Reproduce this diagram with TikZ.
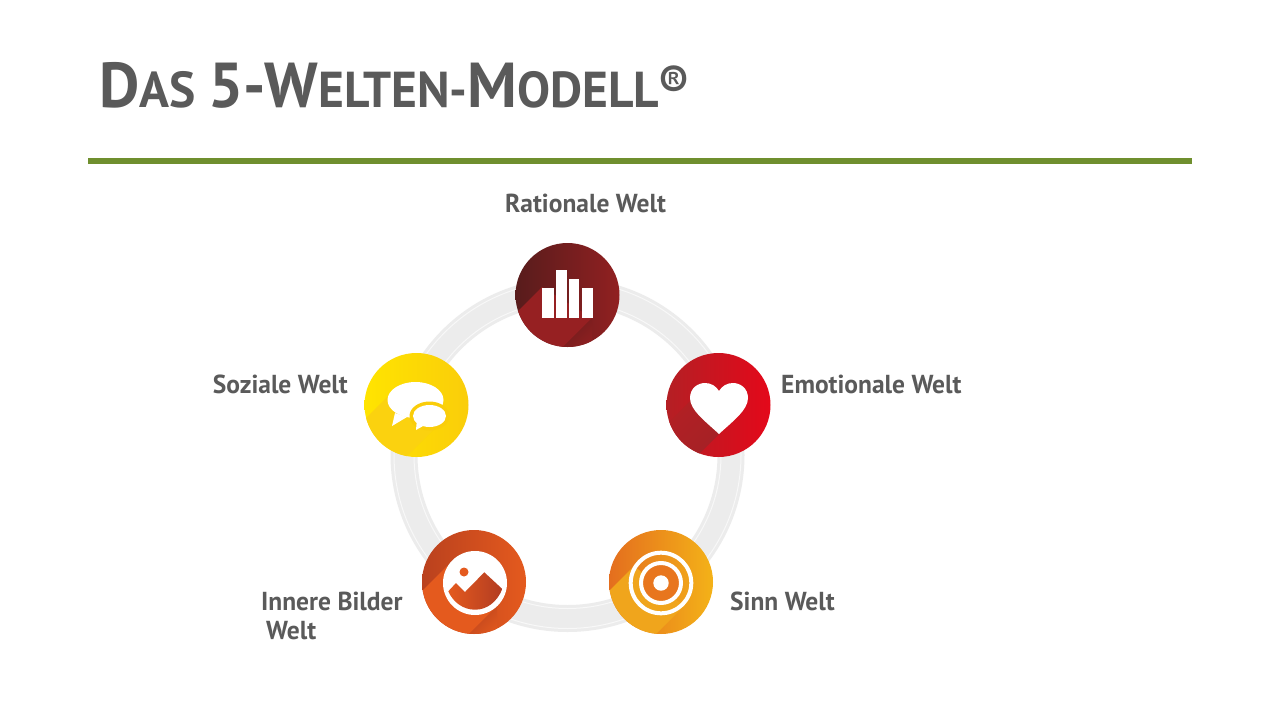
\documentclass[tikz,border=0pt]{standalone}
\usepackage{fontspec}
\setmainfont{PT Sans}[Ligatures=NoCommon,FakeStretch=0.98]
\usetikzlibrary{shapes,backgrounds}
\definecolor{titlegray}{HTML}{5A5A5A}
\definecolor{rulegreen}{HTML}{6F8F2E}
\definecolor{ringgray}{HTML}{ECECEC}
\definecolor{ringline}{HTML}{F8F8F8}
\definecolor{ratdark}{HTML}{581C1C}
\definecolor{ratmain}{HTML}{912021}
\definecolor{ratlight}{HTML}{962022}
\definecolor{ratshade}{HTML}{691C1C}
\definecolor{emodark}{HTML}{B41F24}
\definecolor{emomain}{HTML}{E4081A}
\definecolor{emoshade}{HTML}{A32226}
\definecolor{socleft}{HTML}{FFE400}
\definecolor{socright}{HTML}{FACD0A}
\definecolor{socband}{HTML}{FBD20F}
\definecolor{innleft}{HTML}{BA411E}
\definecolor{innright}{HTML}{E45A1E}
\definecolor{innshade}{HTML}{B5401F}
\definecolor{innpeak}{HTML}{B23C22}
\definecolor{senleft}{HTML}{E46E1E}
\definecolor{senright}{HTML}{F4B218}
\definecolor{senband}{HTML}{F0A51C}
\definecolor{senring}{HTML}{E8761E}
\tikzset{
  world/.style={circle,inner sep=0pt,minimum size=104pt,shading angle=90},
  lbl/.style={font=\bfseries\fontsize{26}{29}\selectfont,text=titlegray,inner sep=0pt,align=left},
  iconwhite/.style={fill=white,draw=none}
}
\newcommand{\capsl}{\fontsize{63.5}{64}\selectfont}
\newcommand{\capss}{\fontsize{50.5}{51}\selectfont}
\begin{document}
\begin{tikzpicture}[x=1pt,y=-1pt]
\useasboundingbox[fill=white] (0,0) rectangle (1280,720);
\node[anchor=base west,inner sep=0pt,text=titlegray,font=\bfseries] (title) at (99,107)
  {\capsl D\capss AS \capsl 5-W\capss ELTEN-\capsl M\capss ODELL\raisebox{8pt}{\fontsize{46}{46}\selectfont ®}};
\fill[rulegreen] (88,158) rectangle (1192,164);

% ring
\draw[ringgray,line width=27pt] (567.5,455) circle (163.5);
\draw[ringline,line width=1pt] (567.5,455) circle (173.5);
\draw[ringline,line width=1pt] (567.5,455) circle (153.5);

% circles
\node[world,left color=ratdark,right color=ratmain] (rational) at (567.5,295) {};
\node[world,left color=emodark,right color=emomain] (emotional) at (718.5,405) {};
\node[world,left color=socleft,right color=socright] (social) at (416.5,405) {};
\node[world,left color=innleft,right color=innright] (inner) at (474,582) {};
\node[world,left color=senleft,right color=senright] (sense) at (661,582) {};

% shadows
\begin{scope}
\clip (rational.center) circle (52);
\fill[ratlight] (542,287) -- (592,318) -- (542,368) -- (492,337) -- cycle;
\shade[left color=ratshade,right color=ratmain,shading angle=45] (592,318) -- (552,358) -- (592,358) -- cycle;
\end{scope}
\begin{scope}
\clip (emotional.center) circle (52);
\shade[left color=emodark,right color=emoshade,shading angle=45] (691,400) -- (719,434) -- (680,473) -- (652,439) -- cycle;
\end{scope}
\begin{scope}
\clip (social.center) circle (52);
\fill[socband] (387,397) -- (445,418) -- (405,458) -- (347,437) -- cycle;
\end{scope}
\begin{scope}
\clip (inner.center) circle (52);
\fill[innright] (447,566) -- (497,606) -- (447,656) -- (397,616) -- cycle;
\shade[left color=innshade,right color=innright,shading angle=45] (497,606) -- (457,646) -- (497,646) -- cycle;
\end{scope}
\begin{scope}
\clip (sense.center) circle (52);
\fill[senband] (634,566) -- (684,606) -- (634,656) -- (584,616) -- cycle;
\end{scope}

% bars
\fill[iconwhite] (542,288) rectangle (554,318);
\fill[iconwhite] (556,270) rectangle (567,318);
\fill[iconwhite] (569,279) rectangle (579,318);
\fill[iconwhite] (582,288) rectangle (593,318);
% heart
\fill[iconwhite] (719,434) .. controls (705,421) and (690,410) .. (690,398)
  .. controls (690,388) and (698,383) .. (705,383) .. controls (711,383) and (716,386) .. (719,391)
  .. controls (722,386) and (727,383) .. (733,383) .. controls (740,383) and (748,388) .. (748,398)
  .. controls (748,410) and (733,421) .. (719,434) -- cycle;
% bubbles
\fill[iconwhite] (415.5,400) ellipse (28 and 18);
\fill[iconwhite] (395,413) -- (392,426) -- (407,417) -- cycle;
\fill[socright] (429.5,416) ellipse (20 and 14.5);
\fill[iconwhite] (429.5,416) ellipse (16.5 and 11);
\fill[iconwhite] (416.7,422) -- (416,430) -- (424,425.5) -- cycle;
% picture
\fill[iconwhite] (475,583) circle (32);
\fill[innright] (464,572) circle (4.5);
\shade[left color=innright,right color=innpeak] (448.3,591.3) -- (456,583) -- (465,592) -- (484.3,572.3) -- (502.3,589)
  .. controls (497,602) and (487,609.7) .. (475,609.7) .. controls (463,609.7) and (453,602) .. (448.3,591.3) -- cycle;
% target
\draw[white,line width=4pt] (661,583) circle (30.3);
\fill[senring] (661,583) circle (18);
\draw[white,line width=4pt] (661,583) circle (20);
\fill[iconwhite] (661,583) circle (7.7);

% labels
\node[lbl,anchor=base] (ratlbl) at (585.5,212) {Rationale Welt};
\node[lbl,anchor=base west] (emolbl) at (781,393) {Emotionale Welt};
\node[lbl,anchor=base east] (soclbl) at (348,393) {Soziale Welt};
\node[lbl,anchor=base west] (innlbl) at (261,610) {Innere Bilder};
\node[lbl,anchor=base west] (innlbl2) at (266,639) {Welt};
\node[lbl,anchor=base west] (senlbl) at (730,610) {Sinn Welt};
\end{tikzpicture}
\end{document}
